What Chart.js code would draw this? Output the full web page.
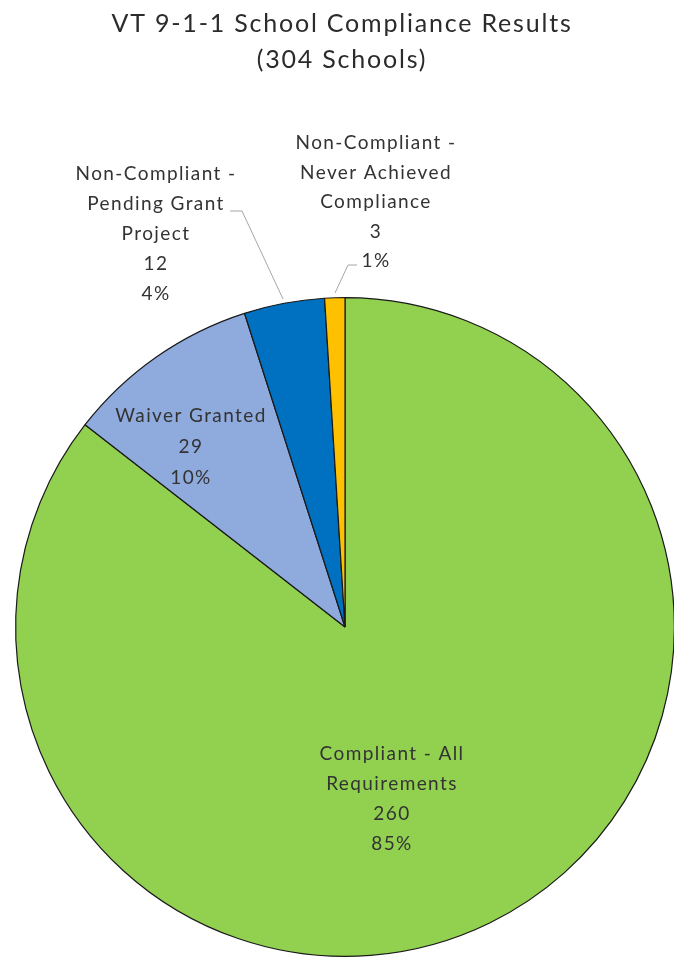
<!DOCTYPE html>
<html>
<head>
<meta charset="utf-8">
<script src="https://cdn.jsdelivr.net/npm/chart.js@4.4.0/dist/chart.umd.min.js"></script>
<style>
  html, body { margin: 0; padding: 0; background: #fff; overflow: hidden; }
  #wrap { position: absolute; left: 0; top: 0; width: 680px; height: 962px; }
</style>
</head>
<body>
<div id="wrap"><canvas id="pieChart"></canvas></div>
<script>
const titleLines = ["VT 9-1-1 School Compliance Results", "(304 Schools)"];
const categories = [
    ["Compliant - All", "Requirements"],
    ["Waiver Granted"],
    ["Non-Compliant -", "Pending Grant", "Project"],
    ["Non-Compliant -", "Never Achieved", "Compliance"]
];
const schoolCounts = [260, 29, 12, 3];
const percentLabels = ["85%", "10%", "4%", "1%"];
const sliceColors = ["#92D050", "#8FAADC", "#0070C0", "#FFC000"];

document.addEventListener("DOMContentLoaded", function () {
    // label anchor offsets from pie center (x, first baseline y), plus optional leader line
    const labelSpots = [
        { dx: 47, dy: 133, lh: 30 },
        { dx: -154, dy: -205, lh: 31 },
        { dx: -189, dy: -447, lh: 30, leader: [[-115, -416], [-103, -416], [-62, -328]] },
        { dx: 31, dy: -478, lh: 29.5, leader: [[12, -362], [3, -362], [-10, -334]] }
    ];

    const labelPlugin = {
        id: "labelPlugin",
        afterDraw(chart) {
            const ctx = chart.ctx;
            const arc = chart.getDatasetMeta(0).data[0];
            const cx = arc.x, cy = arc.y;
            ctx.save();
            // title
            ctx.fillStyle = "#2b2b2b";
            ctx.font = "25px Lato";
            ctx.letterSpacing = "1.8px";
            ctx.textAlign = "center";
            ctx.textBaseline = "alphabetic";
            ctx.fillText(titleLines[0], 342, 32);
            ctx.fillText(titleLines[1], 342, 68);

            // data labels
            ctx.font = "19px Lato";
            ctx.letterSpacing = "1.4px";
            ctx.fillStyle = "#333";
            labelSpots.forEach((s, i) => {
                const lines = categories[i].concat([String(schoolCounts[i]), percentLabels[i]]);
                lines.forEach((t, j) => {
                    ctx.fillText(t, cx + s.dx, cy + s.dy + j * s.lh);
                });
                if (s.leader) {
                    ctx.strokeStyle = "#A6A6A6";
                    ctx.lineWidth = 1;
                    ctx.beginPath();
                    s.leader.forEach((p, k) => {
                        if (k === 0) ctx.moveTo(cx + p[0], cy + p[1]);
                        else ctx.lineTo(cx + p[0], cy + p[1]);
                    });
                    ctx.stroke();
                }
            });
            ctx.restore();
        }
    };

    const ctx = document.getElementById("pieChart").getContext("2d");
    new Chart(ctx, {
        type: "pie",
        data: {
            labels: categories.map(c => c.join(" ")),
            datasets: [{
                data: schoolCounts,
                backgroundColor: sliceColors,
                borderColor: "#1a1a1a",
                borderWidth: 1.2
            }]
        },
        options: {
            responsive: true,
            maintainAspectRatio: false,
            animation: false,
            layout: { padding: { left: 15, right: 5, top: 297, bottom: 5 } },
            plugins: {
                legend: { display: false },
                tooltip: { enabled: false }
            }
        },
        plugins: [labelPlugin]
    });
});
</script>
</body>
</html>
